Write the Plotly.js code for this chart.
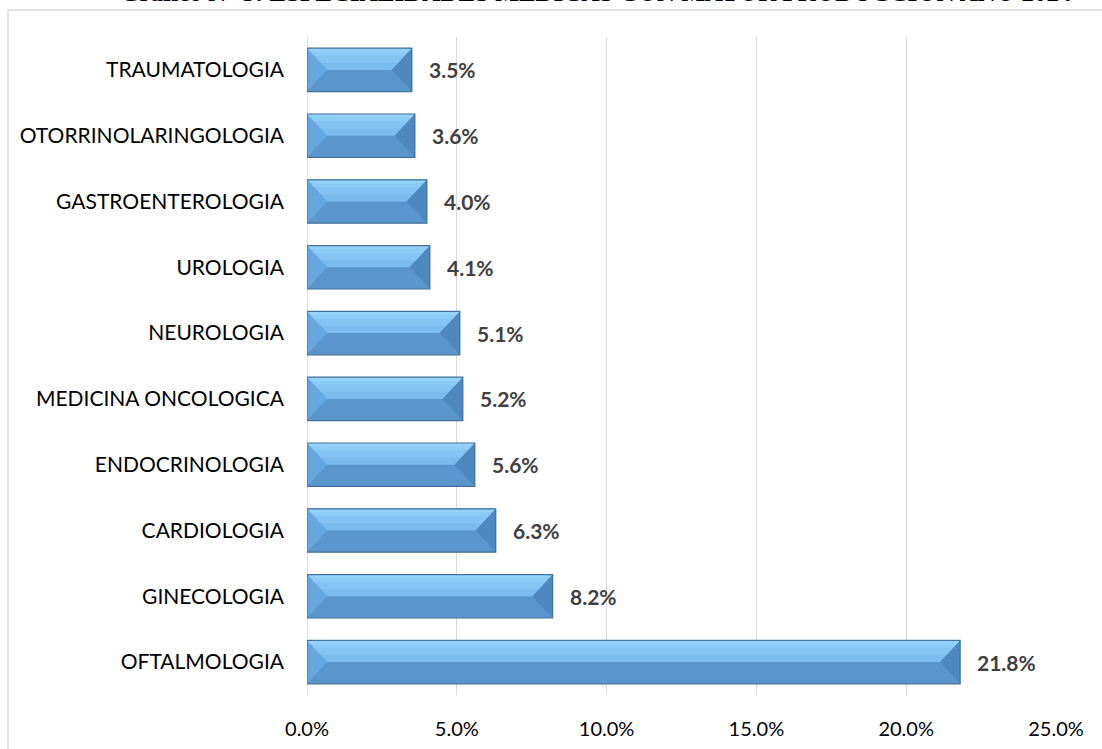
<!DOCTYPE html>
<html>
<head>
<meta charset="utf-8">
<script src="https://cdn.plot.ly/plotly-3.0.1.min.js"></script>
<style>html,body{margin:0;padding:0;background:#fff;}#chart{width:1102px;height:749px;}</style>
</head>
<body>
<div id="chart"></div>
<script>
const categories = ['OFTALMOLOGIA','GINECOLOGIA','CARDIOLOGIA','ENDOCRINOLOGIA','MEDICINA ONCOLOGICA','NEUROLOGIA','UROLOGIA','GASTROENTEROLOGIA','OTORRINOLARINGOLOGIA','TRAUMATOLOGIA'];
const values = [21.8, 8.2, 6.3, 5.6, 5.2, 5.1, 4.1, 4.0, 3.6, 3.5];
const xTickVals = [0, 5, 10, 15, 20, 25];
const xTickText = ['0.0%', '5.0%', '10.0%', '15.0%', '20.0%', '25.0%'];
const titleText = 'Gráfico N° 3: ESPECIALIDADES MEDICAS CON MAYOR PRODUCCION AÑO 2024';

const idx = categories.map((c, i) => i);
const H = 0.33;      // half bar thickness (category units)
const B = 0.67;      // bevel width (value units)

function polys(fn) {
  const xs = [], ys = [];
  values.forEach((v, i) => {
    const b = Math.min(B, v / 2);
    fn(v, i, b).forEach(p => { xs.push(p[0]); ys.push(p[1]); });
    xs.push(null); ys.push(null);
  });
  return {xs, ys};
}
function polyTrace(fn, color) {
  const p = polys(fn);
  return {type: 'scatter', mode: 'lines', x: p.xs, y: p.ys, fill: 'toself', fillcolor: color,
          line: {width: 0, color: color}, hoverinfo: 'skip', showlegend: false};
}
// top face band between fractions f0 (near middle) and f1 (near top) of the half height
function topBand(f0, f1, color) {
  return polyTrace((v, i, b) => [
    [b * (1 - f1), i + H * f1], [v - b * (1 - f1), i + H * f1],
    [v - b * (1 - f0), i + H * f0], [b * (1 - f0), i + H * f0], [b * (1 - f1), i + H * f1]], color);
}

const traces = [
  {type: 'bar', orientation: 'h', x: values, y: idx, width: 2 * H,
   marker: {color: '#5a96cc', line: {width: 0}}, hoverinfo: 'skip', showlegend: false},
  topBand(0, 1, '#7cbbed'),
  topBand(0.33, 1, '#84c3f2'),
  topBand(0.66, 1, '#8dcbf7'),
  topBand(0.85, 1, '#95d3fb'),
  // left bevel
  polyTrace((v, i, b) => [[0, i + H], [b, i], [0, i - H], [0, i + H]], '#64a7e1'),
  // right bevel
  polyTrace((v, i, b) => [[v, i + H], [v - b, i], [v, i - H], [v, i + H]], '#4f88bf'),
];
// outline
(function () {
  const p = polys((v, i) => [[0, i + H], [v, i + H], [v, i - H], [0, i - H], [0, i + H]]);
  traces.push({type: 'scatter', mode: 'lines', x: p.xs, y: p.ys, line: {width: 1.2, color: '#41719c'},
               hoverinfo: 'skip', showlegend: false});
})();

const annotations = values.map((v, i) => ({
  x: v, y: i, xref: 'x', yref: 'y', xanchor: 'left', yanchor: 'middle', xshift: 15, showarrow: false,
  text: '<b>' + v.toFixed(1) + '%</b>', font: {family: 'Lato, sans-serif', size: 21, color: '#404040'}
}));
annotations.push({
  text: '<b>' + titleText + '</b>', xref: 'paper', yref: 'paper', x: (118 - 307) / 749, y: (695 + 7) / 658,
  xanchor: 'left', yanchor: 'middle', showarrow: false,
  font: {family: 'Liberation Serif, serif', size: 25, color: '#000000'}
});

const layout = {
  width: 1102, height: 749,
  margin: {l: 307, r: 46, t: 37, b: 54, pad: 0},
  paper_bgcolor: '#ffffff', plot_bgcolor: '#ffffff',
  xaxis: {range: [0, 25], tickvals: xTickVals, ticktext: xTickText, showgrid: true, gridcolor: '#d9d9d9',
          gridwidth: 1, zeroline: false, showline: false, ticks: '', ticklabelstandoff: 20,
          tickfont: {family: 'Lato, sans-serif', size: 20, color: '#000000'}, fixedrange: true},
  yaxis: {range: [-0.5, 9.5], tickvals: idx, ticktext: categories, showgrid: false, zeroline: false,
          showline: false, ticks: '', ticklabelstandoff: 22,
          tickfont: {family: 'Lato, sans-serif', size: 21, color: '#000000'}, fixedrange: true},
  shapes: [
    {type: 'line', xref: 'x', yref: 'paper', x0: 0, x1: 0, y0: 0, y1: 1, line: {color: '#d9d9d9', width: 1.5}, layer: 'below'},
    {type: 'rect', xref: 'paper', yref: 'paper', x0: -0.3992, x1: 1.2, y0: -0.2, y1: 1.041,
     line: {color: '#d9d9d9', width: 1.5}, fillcolor: 'rgba(0,0,0,0)', layer: 'below'}
  ],
  annotations: annotations,
  showlegend: false
};

Plotly.newPlot('chart', traces, layout, {displayModeBar: false, staticPlot: true});
</script>
</body>
</html>
